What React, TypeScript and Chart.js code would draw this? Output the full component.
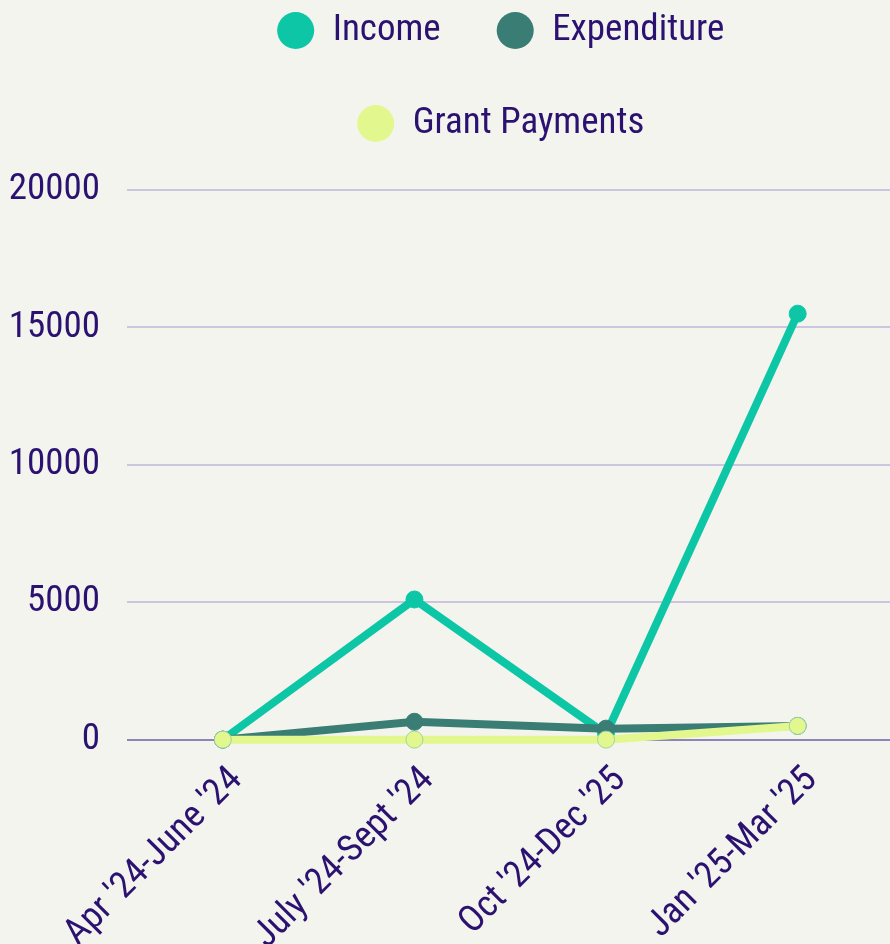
import React, { useEffect, useRef } from "react";
import { Chart, registerables } from "chart.js";

Chart.register(...registerables);

const categories = ["Apr '24-June '24", "July '24-Sept '24", "Oct '24-Dec '25", "Jan '25-Mar '25"];
const income = [0, 5100, 200, 15500];
const expenditure = [0, 650, 400, 500];
const grantPayments = [0, 0, 0, 500];
const yMin = 0;
const yMax = 20000;
const yStep = 5000;

const FONT = "'Roboto Condensed', 'Liberation Sans Narrow', 'DejaVu Sans Condensed', Roboto, sans-serif";
const TEXT = "#2b1270";
const BG = "#f4f4ef";
const C_INCOME = "#0cc6a6";
const C_EXP = "#3a7d75";
const C_GRANT = "#e3f78f";

const legendShift = {
  id: "legendShift",
  afterLayout(chart: any) {
    const l = chart.legend;
    if (l) {
      l.left -= 9.5;
      l.right -= 9.5;
    }
  },
};

export default function App() {
  const ref = useRef<HTMLCanvasElement | null>(null);

  useEffect(() => {
    if (!ref.current) return;
    Chart.defaults.font.family = FONT;
    Chart.defaults.color = TEXT;
    const chart = new Chart(ref.current, {
      type: "line",
      data: {
        labels: categories,
        datasets: [
          {
            label: "Income",
            data: income,
            borderColor: C_INCOME,
            backgroundColor: C_INCOME,
            pointBackgroundColor: C_INCOME,
            pointBorderColor: C_INCOME,
            order: 2,
            clip: false,
          },
          {
            label: "Expenditure",
            data: expenditure,
            borderColor: C_EXP,
            backgroundColor: C_EXP,
            pointBackgroundColor: C_EXP,
            pointBorderColor: C_EXP,
            order: 1,
            clip: false,
          },
          {
            label: "Grant Payments",
            data: grantPayments,
            borderColor: C_GRANT,
            backgroundColor: C_GRANT,
            pointBackgroundColor: C_GRANT,
            pointBorderColor: "#9fd3a4",
            order: 0,
            clip: false,
          },
        ],
      },
      options: {
        animation: false,
        responsive: true,
        maintainAspectRatio: false,
        elements: {
          line: { borderWidth: 8, tension: 0 },
          point: { radius: 8.5, borderWidth: 1, hoverRadius: 8.5 },
        },
        layout: { padding: 0 },
        plugins: {
          tooltip: { enabled: false },
          legend: {
            position: "top",
            fullSize: false,
            labels: {
              usePointStyle: true,
              pointStyle: "circle",
              boxHeight: 26.2,
              boxWidth: 37,
              padding: 56,
              color: TEXT,
              font: { size: 37, family: FONT },
              sort: (a: any, b: any) => a.datasetIndex - b.datasetIndex,
              generateLabels: (c: any) =>
                Chart.defaults.plugins.legend.labels
                  .generateLabels(c)
                  .map((l: any) => ({ ...l, lineWidth: 0 })),
            },
          },
          subtitle: {
            display: true,
            text: "",
            weight: 500,
            font: { size: 10, lineHeight: 1 },
            padding: { top: 28, bottom: 0 },
          } as any,
        },
        scales: {
          x: {
            offset: true,
            grid: { display: false, drawTicks: false },
            border: { display: false },
            ticks: {
              color: TEXT,
              font: { size: 37, family: FONT },
              minRotation: 45,
              maxRotation: 45,
              padding: 19,
              labelOffset: 14,
            },
          },
          y: {
            min: yMin,
            max: yMax,
            afterFit: (s: any) => {
              s.width = 127;
            },
            grid: {
              drawTicks: false,
              lineWidth: 2,
              color: (ctx: any) => (ctx.tick && ctx.tick.value === 0 ? "#8e84b8" : "#cbc5df"),
            },
            border: { display: false },
            ticks: {
              stepSize: yStep,
              color: TEXT,
              padding: 27,
              font: { size: 37, family: FONT },
              callback: (v: any) => String(v),
            },
          },
        },
      },
      plugins: [legendShift],
    });
    return () => chart.destroy();
  }, []);

  return (
    <div
      style={{
        position: "fixed",
        left: 0,
        top: 0,
        width: 890,
        height: 944,
        overflow: "hidden",
        background: BG,
      }}
    >
      <div style={{ position: "absolute", left: 0, top: -44, width: 903, height: 1021 }}>
        <canvas ref={ref} />
      </div>
    </div>
  );
}
